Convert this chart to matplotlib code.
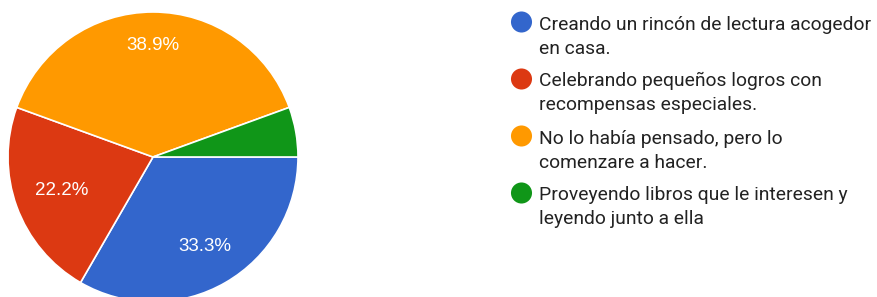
import matplotlib
matplotlib.use("Agg")
import matplotlib.pyplot as plt

# respuestas (18 en total)
labels = [["Creando un rincón de lectura acogedor", "en casa."],
          ["Celebrando pequeños logros con", "recompensas especiales."],
          ["No lo había pensado, pero lo", "comenzare a hacer."],
          ["Proveyendo libros que le interesen y", "leyendo junto a ella"]]
values = [6, 4, 7, 1]
colors = ["#3366CC", "#DC3912", "#FF9900", "#109618"]

W, H = 878, 297
fig = plt.figure(figsize=(W / 100, H / 100), dpi=100)

# pie: center (153,157) px, radius 145 px
cx, cy, r = 153, 157, 145
ax = fig.add_axes([(cx - r) / W, (H - cy - r) / H, 2 * r / W, 2 * r / H])
wedges, _, autotexts = ax.pie(values, colors=colors, startangle=0, counterclock=False,
                              autopct="%1.1f%%", pctdistance=0.71,
                              wedgeprops=dict(edgecolor="white", linewidth=1.2),
                              textprops=dict(color="white", fontsize=13.5,
                                             family="Liberation Sans"))
# Google ajusta un poco la distancia de cada etiqueta
for t, k in zip(autotexts, [1.0, 0.67 / 0.71, 0.77 / 0.71, 1.0]):
    x, y = t.get_position()
    t.set_position((x * k, y * k))
autotexts[3].set_visible(False)  # porción pequeña sin etiqueta
ax.set_xlim(-1, 1)
ax.set_ylim(-1, 1)
ax.set_aspect("equal")
ax.axis("off")

# leyenda a mano
lg = fig.add_axes([0, 0, 1, 1])
lg.set_xlim(0, W)
lg.set_ylim(H, 0)
lg.axis("off")
for i, (lines, col) in enumerate(zip(labels, colors)):
    y = 22 + i * 57
    lg.scatter([521.5], [y], s=230, color=col, edgecolors="none")
    for j, line in enumerate(lines):
        lg.text(539, y + 7.5 + 24 * j, line, fontsize=13.9, family="Roboto",
                color="#222222", va="baseline", ha="left")

fig.savefig("out.png", dpi=100)
